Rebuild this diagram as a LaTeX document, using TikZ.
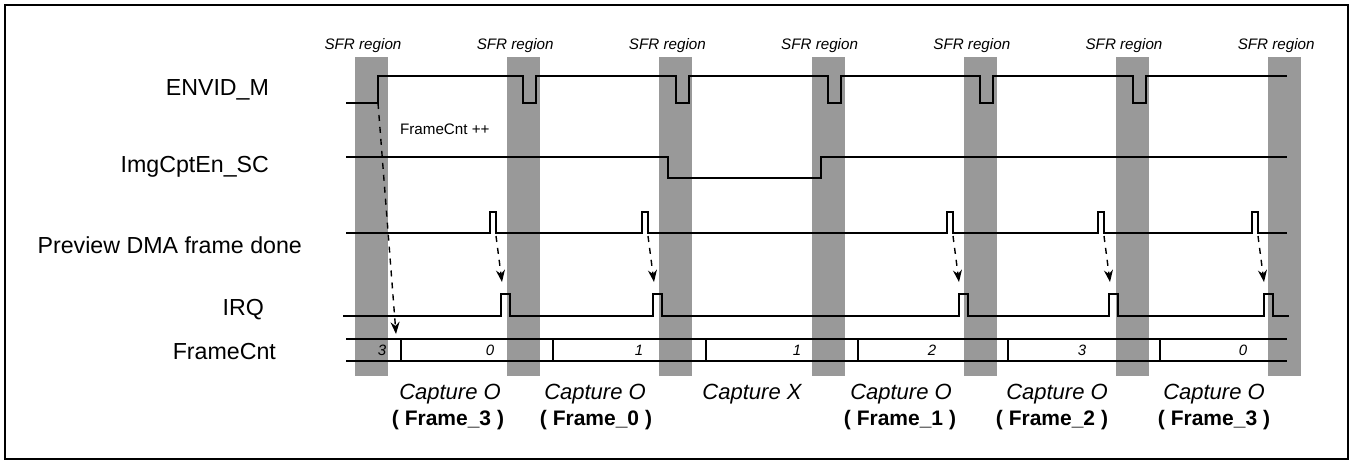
\documentclass[tikz,border=0pt]{standalone}
\usepackage{fontspec}
\setmainfont{Liberation Sans}
\usepackage{tikz}
\usetikzlibrary{
  arrows.meta, % Stealth 箭头样式
  calc         % 坐标计算
}
\definecolor{sfrgray}{RGB}{153,153,153}
\tikzset{
  signal/.style={
    line width=1.4pt,
    color=black
  },
  sfr bar/.style={
    fill=sfrgray,
    draw=none
  },
  event arrow/.style={
    -{Stealth[length=6pt,width=4.5pt]},
    dashed,
    line width=0.7pt
  },
  sig label/.style={
    anchor=east,
    font=\fontsize{11.6pt}{14pt}\selectfont
  },
  sfr label/.style={
    font=\fontsize{7.6pt}{9pt}\selectfont\itshape
  },
  bus value/.style={
    font=\fontsize{7.5pt}{9pt}\selectfont\itshape
  },
  capture label/.style={
    font=\fontsize{11pt}{13pt}\selectfont\itshape
  },
  frame label/.style={
    font=\fontsize{10.5pt}{13pt}\selectfont\bfseries
  }
}

\begin{document}
\begin{tikzpicture}[x=0.5pt, y=-0.5pt] % 以像素为单位，y 轴向下
  \useasboundingbox (0,0) rectangle (1354,463);
  \draw[line width=1.4pt] (5,5) rectangle (1348,459); % 外框

  % SFR 区域灰条及标题
  \foreach \i in {0,...,6}{
    \path[sfr bar] ({355+152.2*\i},57) rectangle ++(33,319);
    \node[sfr label] (sfr\i) at ({363+152.2*\i},46) {SFR region};
  }

  % 信号名称
  \node[sig label] (envid) at (276,90) {ENVID\_M};
  \node[sig label] (imgcpt) at (276,167) {ImgCptEn\_SC};
  \node[sig label] (dma) at (309,245) {Preview DMA frame done};
  \node[sig label] (irq) at (271,310) {IRQ};
  \node[sig label] (cnt) at (283,351) {FrameCnt};

  % ENVID_M 波形：上升后在每个 SFR 区域末尾有一个低脉冲
  \draw[signal] (346,103) -- (378,103) -- (378,76)
    \foreach \d in {523,676,828,980,1133}{ -- (\d,76) -- (\d,103) -- ({\d+13},103) -- ({\d+13},76) }
    -- (1287,76);

  % ImgCptEn_SC 波形
  \draw[signal] (346,157) -- (668,157) -- (668,178) -- (821,178) -- (821,157) -- (1287,157);

  % Preview DMA frame done 窄脉冲
  \draw[signal] (346,233)
    \foreach \p in {490,642,947,1098,1252}{ -- (\p,233) -- (\p,212) -- ({\p+6},212) -- ({\p+6},233) }
    -- (1287,233);

  % IRQ 脉冲
  \draw[signal] (343,316)
    \foreach \q in {501,653,959,1109,1264}{ -- (\q,316) -- (\q,294) -- ({\q+9},294) -- ({\q+9},316) }
    -- (1289,316);

  % FrameCnt 总线
  \draw[signal] (346,339) -- (1287,339);
  \draw[signal] (346,361) -- (1287,361);
  \foreach \s in {401,553,706,858,1008,1160}
    \draw[signal] (\s,339) -- (\s,361);
  \foreach \x/\v [count=\k] in {382/3,490/0,639/1,797/1,932/2,1082/3,1243/0}
    \node[bus value] (val\k) at (\x,350) {\v};

  % 事件箭头
  \coordinate (envRise) at (378,103); % ENVID_M 上升沿
  \coordinate (cntEdge) at (396,334); % FrameCnt 变化处
  \draw[event arrow] (envRise) -- (cntEdge);
  \node[anchor=west, font=\fontsize{7.6pt}{9pt}\selectfont] (cntInc) at (393,129) {FrameCnt ++};
  \foreach \p [count=\k] in {490,642,947,1098,1252}{
    \coordinate (dma\k) at ({\p+6},236); % DMA 脉冲下降沿
    \coordinate (irq\k) at ({\p+12},282); % IRQ 脉冲上方
    \draw[event arrow] (dma\k) -- (irq\k);
  }

  % 捕获结果
  \node[capture label] (cap1) at (450,394) {Capture O};
  \node[frame label] (frm1) at (448,420) {( Frame\_3 )};
  \node[capture label] (cap2) at (595,394) {Capture O};
  \node[frame label] (frm2) at (596,420) {( Frame\_0 )};
  \node[capture label] (cap3) at (752,394) {Capture X};
  \node[capture label] (cap4) at (901,394) {Capture O};
  \node[frame label] (frm4) at (900,420) {( Frame\_1 )};
  \node[capture label] (cap5) at (1057,394) {Capture O};
  \node[frame label] (frm5) at (1052,420) {( Frame\_2 )};
  \node[capture label] (cap6) at (1214,394) {Capture O};
  \node[frame label] (frm6) at (1214,420) {( Frame\_3 )};
\end{tikzpicture}
\end{document}
